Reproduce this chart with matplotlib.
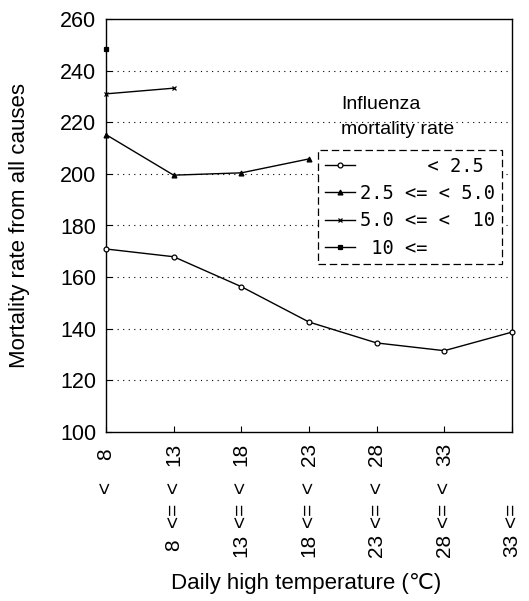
import matplotlib
matplotlib.use("Agg")
import matplotlib.pyplot as plt
from matplotlib.lines import Line2D
import matplotlib.transforms as mtransforms

plt.rcParams['font.family'] = ['Liberation Sans', 'DejaVu Sans']

# categories (temperature bins)
lower_bounds = ["", "8", "13", "18", "23", "28", "33"]
upper_bounds = ["8", "13", "18", "23", "28", "33", ""]

# series values (mortality rate from all causes)
s_lt25 = [170.9, 167.9, 156.3, 142.6, 134.5, 131.5, 138.7]
s_25_50 = [215.2, 199.5, 200.4, 205.8]
s_50_10 = [231.0, 233.2]
s_ge10 = [248.3]

legend_labels = ["      < 2.5", "2.5 <= < 5.0", "5.0 <= <  10", " 10 <=     "]
y_ticks = [100, 120, 140, 160, 180, 200, 220, 240, 260]

W, H = 529, 601
fig = plt.figure(figsize=(W / 100, H / 100), dpi=100)
ax = fig.add_axes([106 / W, 1 - 432 / H, (512 - 106) / W, (432 - 19) / H])

markers = ['o', '^', 'x', 's']
fills = ['white', 'black', 'black', 'black']
series = [s_lt25, s_25_50, s_50_10, s_ge10]
handles = []
for vals, m, fc, lab in zip(series, markers, fills, legend_labels):
    xs = list(range(len(vals)))
    ax.plot(xs, vals, color='black', lw=1.0, marker=m, ms=3.5,
            mfc=fc, mec='black', mew=0.9, clip_on=False, zorder=3)
    handles.append(Line2D([0], [0], color='black', lw=1.0, marker=m, ms=3.5,
                          mfc=fc, mec='black', mew=0.9, label=lab))

ax.set_xlim(0, 6)
ax.set_ylim(100, 260)
ax.set_yticks(y_ticks)
ax.set_yticklabels([str(v) for v in y_ticks], fontsize=15.5)
ax.set_xticks(range(7))
ax.set_xticklabels([''] * 7)
ax.tick_params(axis='both', direction='in', length=4, width=0.8, colors='black')
ax.tick_params(axis='y', pad=7)

for v in y_ticks[1:-1]:
    ax.axhline(v, color='black', lw=0.8, ls=(0, (1, 4)), zorder=1)

for sp in ax.spines.values():
    sp.set_linewidth(1.0)
    sp.set_color('black')

# multi-part rotated x tick labels
trans = mtransforms.blended_transform_factory(ax.transData, fig.transFigure)
for i, (lo, hi) in enumerate(zip(lower_bounds, upper_bounds)):
    kw = dict(rotation=90, ha='center', va='center', fontsize=15, transform=trans)
    if hi:
        ax.text(i, 1 - 454 / H, hi, **kw)
        ax.text(i, 1 - 487 / H, "<", **kw)
    if lo:
        ax.text(i, 1 - 515 / H, "<=", **kw)
        ax.text(i, 1 - 545 / H, lo, **kw)

fig.text(306 / W, 1 - 583 / H, "Daily high temperature (℃)", ha='center', va='center',
         fontsize=16)
fig.text(20 / W, 1 - 225 / H, "Mortality rate from all causes", rotation=90,
         ha='center', va='center', fontsize=16)

# legend
fig.text(341 / W, 1 - 104 / H, "Influenza", ha='left', va='center', fontsize=14)
fig.text(341 / W, 1 - 130 / H, "mortality rate", ha='left', va='center', fontsize=14)
leg = ax.legend(handles=handles, loc='upper left',
                bbox_to_anchor=(318 / W, 1 - 150 / H), bbox_transform=fig.transFigure,
                prop={'family': 'DejaVu Sans Mono', 'size': 13.5},
                handlelength=1.6, handletextpad=0.3, labelspacing=0.45,
                borderpad=0.35, borderaxespad=0, fancybox=False, framealpha=1,
                edgecolor='black')
leg.get_frame().set_linestyle((0, (6, 3)))
leg.get_frame().set_linewidth(0.9)

fig.savefig("out.png", dpi=100, facecolor='white')
